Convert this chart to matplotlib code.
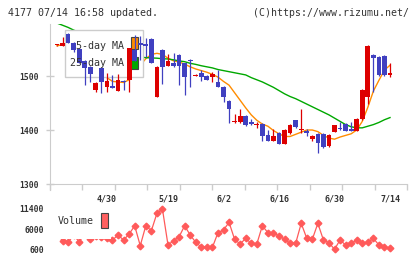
import numpy as np
import matplotlib.pyplot as plt
from matplotlib.patches import Rectangle

plt.rcParams['font.family'] = ['DejaVu Sans Mono']

# trading days shown (61 sessions)
dates = ['4/16', '4/17', '4/18', '4/21', '4/22', '4/23', '4/24', '4/25', '4/28', '4/30',
         '5/1', '5/2', '5/7', '5/8', '5/9', '5/12', '5/13', '5/14', '5/15', '5/16',
         '5/19', '5/20', '5/21', '5/22', '5/23', '5/26', '5/27', '5/28', '5/29', '5/30',
         '6/2', '6/3', '6/4', '6/5', '6/6', '6/9', '6/10', '6/11', '6/12', '6/13',
         '6/16', '6/17', '6/18', '6/19', '6/20', '6/23', '6/24', '6/25', '6/26', '6/27',
         '6/30', '7/1', '7/2', '7/3', '7/4', '7/7', '7/8', '7/9', '7/10', '7/11', '7/14']
label_dates = ['4/30', '5/19', '6/2', '6/16', '6/30', '7/14']

opens = [1557, 1556, 1578, 1562, 1550, 1528, 1517, 1474, 1514, 1480,
         1481, 1473, 1491, 1493, 1549, 1561, 1559, 1568, 1462, 1548,
         1519, 1525, 1539, 1524, 1530, 1500, 1506, 1500, 1499, 1489,
         1480, 1454, 1414, 1414, 1426, 1415, 1410, 1412, 1391, 1380,
         1395, 1375, 1394, 1418, 1400, 1398, 1383, 1393, 1393, 1370,
         1397, 1404, 1412, 1402, 1399, 1420, 1462, 1539, 1536, 1537, 1501]
highs = [1558, 1573, 1580, 1563, 1551, 1529, 1518, 1489, 1515, 1505,
         1502, 1504, 1492, 1552, 1576, 1574, 1570, 1570, 1518, 1550,
         1541, 1542, 1541, 1525, 1531, 1504, 1511, 1501, 1508, 1512,
         1481, 1455, 1430, 1438, 1427, 1420, 1415, 1413, 1400, 1401,
         1396, 1402, 1411, 1419, 1439, 1401, 1390, 1394, 1394, 1392,
         1410, 1415, 1413, 1415, 1423, 1476, 1558, 1540, 1537, 1538, 1524]
lows = [1556, 1556, 1561, 1545, 1524, 1483, 1489, 1470, 1469, 1471,
        1477, 1472, 1474, 1471, 1527, 1530, 1536, 1524, 1462, 1485,
        1518, 1517, 1483, 1465, 1480, 1500, 1491, 1492, 1488, 1479,
        1451, 1413, 1413, 1413, 1407, 1410, 1404, 1380, 1379, 1379,
        1374, 1374, 1393, 1403, 1395, 1388, 1380, 1358, 1366, 1369,
        1396, 1400, 1398, 1398, 1398, 1419, 1448, 1470, 1500, 1500, 1499]
closes = [1557, 1562, 1562, 1548, 1525, 1515, 1503, 1487, 1488, 1491,
          1478, 1493, 1488, 1551, 1528, 1557, 1555, 1525, 1517, 1517,
          1528, 1519, 1519, 1499, 1527, 1501, 1499, 1493, 1504, 1480,
          1462, 1439, 1417, 1426, 1409, 1411, 1411, 1389, 1380, 1389,
          1375, 1400, 1409, 1406, 1401, 1394, 1389, 1376, 1369, 1391,
          1409, 1401, 1399, 1399, 1420, 1475, 1556, 1534, 1501, 1501, 1505]

ma5 = [1556, 1558, 1560, 1561, 1555, 1545, 1531, 1516, 1505, 1497,
       1490, 1489, 1488, 1493, 1505, 1520, 1532, 1540, 1542, 1540,
       1533, 1528, 1526, 1522, 1517, 1513, 1510, 1507, 1503, 1498,
       1490, 1483, 1469, 1455, 1441, 1428, 1418, 1411, 1407, 1399,
       1393, 1388, 1388, 1392, 1396, 1400, 1400, 1397, 1390, 1385,
       1383, 1387, 1390, 1393, 1400, 1416, 1442, 1472, 1492, 1511, 1520]
ma25 = [1598, 1594, 1590, 1585, 1581, 1577, 1572, 1567, 1562, 1557,
        1552, 1547, 1543, 1540, 1537, 1535, 1534, 1533.5, 1533, 1532,
        1531.5, 1530, 1528, 1526.5, 1523.5, 1521.5, 1519, 1517, 1515, 1512,
        1510, 1508, 1506, 1504, 1502, 1497, 1493, 1489, 1484, 1479,
        1473, 1467, 1462, 1458, 1453, 1448, 1443, 1438, 1433, 1428,
        1422, 1416, 1410, 1406, 1404, 1404, 1407, 1410, 1414, 1419, 1423]

volume = [4800, 2900, 2470, 4400, 2600, 4800, 3270, 4200, 3900, 3600,
          3090, 4420, 3090, 4690, 6910, 1560, 6910, 5570, 10220, 11370,
          1750, 2900, 3970, 6910, 4420, 2470, 1200, 1300, 1130, 5040,
          5760, 7820, 3270, 2020, 3540, 2200, 2020, 6910, 5040, 4880,
          4240, 3270, 2200, 2200, 7550, 3540, 3270, 7550, 3090, 2360,
          600, 3090, 1750, 2200, 3090, 2360, 2470, 3540, 1750, 1300, 870]

RED = '#dd0000'
BLUE = '#4040c0'
ORANGE = '#ff8c00'
GREEN = '#00a800'
VOLC = '#ff5a5a'
GRAY = '#cccccc'
TXT = '#333333'

W, H = 420, 259
fig = plt.figure(figsize=(W / 100, H / 100), dpi=100)


def fx(px):
    return px / W


def fy(py):
    return 1 - py / H


def frect(x1, y1, x2, y2, **kw):
    return Rectangle((fx(x1), fy(y2)), fx(x2) - fx(x1), fy(y1) - fy(y2),
                     transform=fig.transFigure, **kw)


ax = fig.add_axes([fx(50), fy(190), fx(407) - fx(50), fy(24) - fy(190)])
vax = fig.add_axes([fx(50), fy(255), fx(407) - fx(50), fy(203) - fy(255)])

x = np.arange(len(dates))
o, h, l, c = map(np.array, (opens, highs, lows, closes))
cols = np.where(c >= o, RED, BLUE)

# moving averages (under the legend box)
ax.plot(x, ma5, color=ORANGE, lw=1, zorder=1.5)
ax.plot(x, ma25, color=GREEN, lw=1, zorder=1.5)

# legend box of price panel
ax.add_patch(frect(65, 30, 143, 77, facecolor='white', edgecolor=GRAY, lw=1, zorder=2))
ax.add_patch(frect(131, 37, 138, 49, facecolor=ORANGE, edgecolor='#444444', lw=0.8, zorder=2.5))
ax.add_patch(frect(131, 57, 138, 69, facecolor=GREEN, edgecolor='#444444', lw=0.8, zorder=2.5))

# candles
ax.vlines(x, l, h, colors=cols, lw=0.9, zorder=3)
body = np.maximum(np.abs(c - o), 1.6)
ax.bar(x, body, bottom=np.minimum(o, c), width=0.85, color=cols, lw=0, zorder=3)

xmin, xmax = -1.26, 63.06
ax.set_xlim(xmin, xmax)
ax.set_ylim(1288.9, 1596.3)
for s in ('top', 'right'):
    ax.spines[s].set_visible(False)
ax.spines['bottom'].set_position(('data', 1300))
ax.spines['left'].set_color(GRAY)
ax.spines['bottom'].set_color(GRAY)
ax.set_yticks([1300, 1400, 1500])
ax.tick_params(axis='y', direction='inout', length=5.8, width=1, color=GRAY,
               labelsize=5.8, labelcolor=TXT, pad=5)
for t in ax.get_yticklabels():
    t.set_fontweight('bold')
ax.set_xticks(np.linspace(xmin, xmax, 12))
ax.set_xticklabels([])
ax.tick_params(axis='x', direction='out', length=4.3, width=1, color=GRAY)
ax.set_xticks([dates.index(d) for d in label_dates], minor=True)
ax.set_xticklabels(label_dates, minor=True, fontsize=6, color=TXT, fontweight='bold')
ax.tick_params(axis='x', which='minor', length=0, pad=7.5)

fig.text(fx(124), fy(46), '5-day MA', ha='right', va='center', fontsize=7.2, color=TXT)
fig.text(fx(124), fy(63), '25-day MA', ha='right', va='center', fontsize=7.2, color=TXT)

# volume panel
vax.plot(x, volume, color=VOLC, lw=0.9, marker='D', ms=3.4, mec=VOLC, zorder=2)
vax.add_patch(frect(50, 205, 111, 238.5, facecolor='white', edgecolor='none', zorder=4))
vax.set_xlim(xmin, xmax)
vax.set_ylim(-928, 13008)
for s in vax.spines.values():
    s.set_visible(False)
vax.set_xticks([])
vax.set_yticks([600, 6000, 11400])
vax.tick_params(axis='y', length=0, labelsize=5.8, labelcolor=TXT, pad=4.3)
for t in vax.get_yticklabels():
    t.set_fontweight('bold')
fig.text(fx(58), fy(221.5), 'Volume', ha='left', va='center', fontsize=7.2, color=TXT)
fig.add_artist(frect(101, 213, 108, 228, facecolor='#ff6060', edgecolor='#444444', lw=0.8))

# header
fig.text(fx(8), fy(12.5), '4177 07/14 16:58 updated.', ha='left', va='center',
         fontsize=7.2, color=TXT)
fig.text(fx(409), fy(12.5), '(C)https://www.rizumu.net/', ha='right', va='center',
         fontsize=7.1, color=TXT)

fig.savefig('out.png', dpi=100)
